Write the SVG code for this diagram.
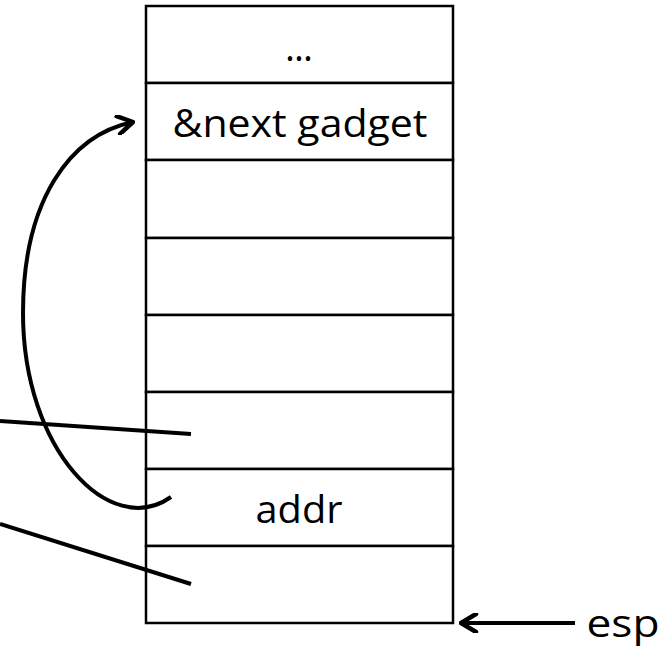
<svg xmlns="http://www.w3.org/2000/svg" width="672" height="647" viewBox="0 0 672 647">
<style>
.cell{fill:#fff;stroke:#000;stroke-width:2.5}
.lbl{font-family:"Open Sans","Liberation Sans",sans-serif;font-size:38px;fill:#000;text-anchor:middle}
.con{fill:none;stroke:#000;stroke-width:4}
</style>
<defs>
<marker id="open" viewBox="0 0 20 20" refX="18" refY="10" markerWidth="20" markerHeight="20" markerUnits="userSpaceOnUse" orient="auto">
<polyline points="3,1 18,10 3,19" fill="none" stroke="#000" stroke-width="4.5" stroke-linecap="round" stroke-linejoin="round"/>
</marker>
</defs>
<g id="stack">
<g id="cell0"><rect class="cell" x="146" y="6" width="307" height="77"/><text class="lbl" x="299" y="61" textLength="28" lengthAdjust="spacing">...</text></g>
<g id="cell1"><rect class="cell" x="146" y="83" width="307" height="77"/><text class="lbl" x="300" y="137" textLength="255" lengthAdjust="spacingAndGlyphs">&amp;next gadget</text></g>
<g id="cell2"><rect class="cell" x="146" y="160" width="307" height="78"/></g>
<g id="cell3"><rect class="cell" x="146" y="238" width="307" height="77"/></g>
<g id="cell4"><rect class="cell" x="146" y="315" width="307" height="77"/></g>
<g id="cell5"><rect class="cell" x="146" y="392" width="307" height="77"/></g>
<g id="cell6"><rect class="cell" x="146" y="469" width="307" height="77"/><text class="lbl" x="299" y="523" textLength="87" lengthAdjust="spacingAndGlyphs">addr</text></g>
<g id="cell7"><rect class="cell" x="146" y="546" width="307" height="77"/></g>
</g>
<g id="esp"><text class="lbl" x="623" y="637" textLength="73" lengthAdjust="spacingAndGlyphs">esp</text></g>
<g id="connectors">
<path class="con" d="M171,497 C110,540 23,450 23,313 C23,200 70,135 133,122" marker-end="url(#open)"/>
<line class="con" x1="0" y1="421" x2="191" y2="434"/>
<line class="con" x1="0" y1="524" x2="191" y2="584"/>
<line class="con" x1="575" y1="623" x2="461" y2="623" marker-end="url(#open)"/>
</g>
</svg>
